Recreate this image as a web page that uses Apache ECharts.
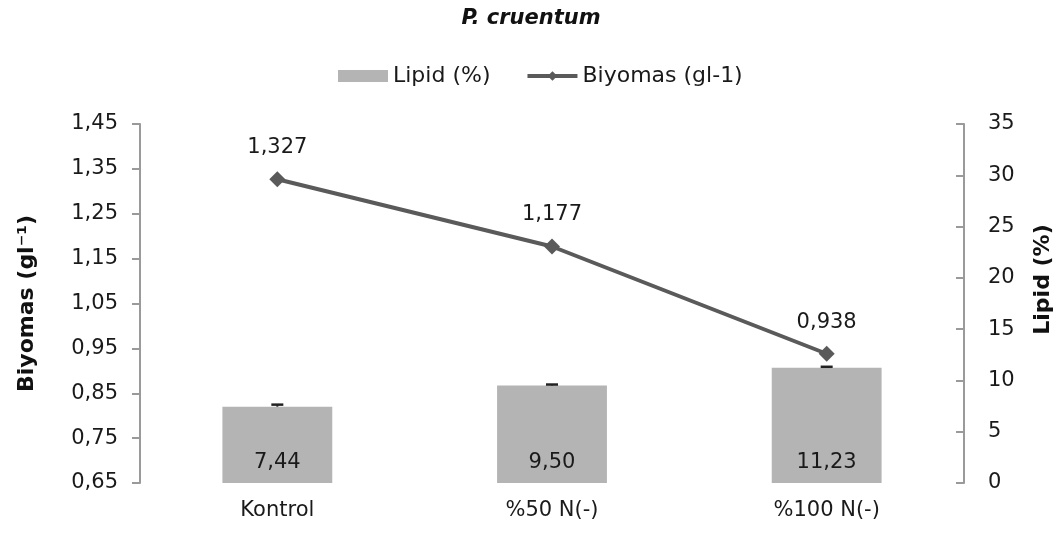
<!DOCTYPE html>
<html>
<head>
<meta charset="utf-8">
<script src="https://cdn.jsdelivr.net/npm/echarts@6/dist/echarts.min.js"></script>
<style>html,body{margin:0;padding:0;background:#fff}#c{width:1062px;height:536px}</style>
</head>
<body>
<div id="c"></div>
<script>
var categories = ['Kontrol', '%50 N(-)', '%100 N(-)'];
var lipid = [7.44, 9.50, 11.23];
var lipidErr = [0.2, 0.1, 0.1];
var biomass = [1.327, 1.177, 0.938];

var FONT = 'DejaVu Sans';
var comma = function (s) { return String(s).replace('.', ','); };

var errData = categories.map(function (c, i) { return [i, lipid[i], lipid[i] + lipidErr[i]]; });

var chart = echarts.init(document.getElementById('c'), null, { renderer: 'canvas' });
chart.setOption({
  animation: false,
  backgroundColor: '#ffffff',
  textStyle: { fontFamily: FONT, color: '#1a1a1a' },
  title: {
    text: 'P. cruentum',
    left: 'center',
    top: 3,
    textStyle: { fontFamily: FONT, fontSize: 21, fontWeight: 'bold', fontStyle: 'italic', color: '#111' }
  },
  legend: {
    left: 333,
    top: 60,
    itemWidth: 50,
    itemHeight: 12,
    itemGap: 35,
    textStyle: { fontFamily: FONT, fontSize: 22, color: '#1a1a1a' },
    data: [
      { name: 'Lipid (%)', icon: 'rect' },
      { name: 'Biyomas (gl-1)', lineStyle: { width: 4 } }
    ]
  },
  grid: { left: 140, right: 97, top: 124, bottom: 53 },
  xAxis: {
    type: 'category',
    data: categories,
    axisLine: { show: false },
    axisTick: { show: false },
    axisLabel: { fontFamily: FONT, fontSize: 21, color: '#1a1a1a', margin: 17 }
  },
  yAxis: [
    {
      type: 'value',
      min: 0.65,
      max: 1.45,
      interval: 0.1,
      position: 'left',
      name: 'Biyomas (gl\u207B\u00B9)',
      nameLocation: 'middle',
      nameRotate: 90,
      nameGap: 102,
      nameTextStyle: { fontFamily: FONT, fontSize: 22, fontWeight: 'bold', color: '#111' },
      axisLine: { show: true, lineStyle: { color: '#9a9a9a', width: 2 } },
      axisTick: { show: true, length: 8, lineStyle: { color: '#9a9a9a', width: 2 } },
      splitLine: { show: false },
      axisLabel: {
        fontFamily: FONT, fontSize: 21, color: '#1a1a1a', margin: 22,
        formatter: function (v) { return comma(v.toFixed(2)); }
      }
    },
    {
      type: 'value',
      min: 0,
      max: 35,
      interval: 5,
      position: 'right',
      name: 'Lipid (%)',
      nameLocation: 'middle',
      nameRotate: 90,
      nameGap: 68,
      nameTextStyle: { fontFamily: FONT, fontSize: 22, fontWeight: 'bold', color: '#111', padding: [0, 0, 0, 48] },
      axisLine: { show: true, lineStyle: { color: '#9a9a9a', width: 2 } },
      axisTick: { show: true, inside: true, length: 8, lineStyle: { color: '#9a9a9a', width: 2 } },
      splitLine: { show: false },
      axisLabel: { fontFamily: FONT, fontSize: 21, color: '#1a1a1a', margin: 24 }
    }
  ],
  series: [
    {
      name: 'Lipid (%)',
      type: 'bar',
      yAxisIndex: 1,
      data: lipid,
      barWidth: '40%',
      itemStyle: { color: '#b4b4b4' },
      label: {
        show: true,
        position: 'insideBottom',
        distance: 10,
        fontFamily: FONT,
        fontSize: 21,
        color: '#1a1a1a',
        formatter: function (p) { return comma(p.value.toFixed(2)); }
      },
      z: 2
    },
    {
      name: 'LipidErr',
      type: 'custom',
      yAxisIndex: 1,
      data: errData,
      renderItem: function (params, api) {
        var top = api.coord([api.value(0), api.value(2)]);
        var base = api.coord([api.value(0), api.value(1)]);
        var hw = 6;
        return {
          type: 'group',
          children: [
            { type: 'line', shape: { x1: top[0], y1: base[1], x2: top[0], y2: top[1] }, style: { stroke: '#222', lineWidth: 2 } },
            { type: 'line', shape: { x1: top[0] - hw, y1: top[1], x2: top[0] + hw, y2: top[1] }, style: { stroke: '#222', lineWidth: 2.5 } }
          ]
        };
      },
      z: 3
    },
    {
      name: 'Biyomas (gl-1)',
      type: 'line',
      yAxisIndex: 0,
      data: biomass,
      symbol: 'diamond',
      symbolSize: 16,
      lineStyle: { color: '#5a5a5a', width: 4 },
      itemStyle: { color: '#5a5a5a' },
      label: {
        show: true,
        position: 'top',
        distance: 13,
        fontFamily: FONT,
        fontSize: 21,
        color: '#1a1a1a',
        formatter: function (p) { return comma(p.value.toFixed(3)); }
      },
      z: 5
    }
  ]
});
</script>
</body>
</html>
